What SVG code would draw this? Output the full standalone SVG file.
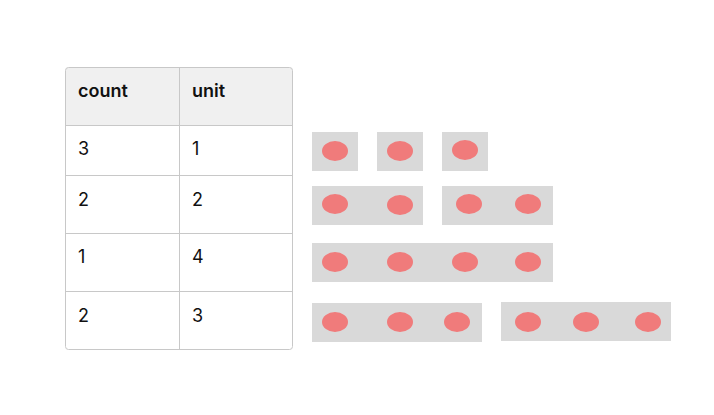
<svg xmlns="http://www.w3.org/2000/svg" width="714" height="415" viewBox="0 0 714 415">
<style>
.t{font-family:Inter,"Liberation Sans",sans-serif;font-size:18px;fill:#111}
.h{font-weight:600}
.ln{stroke:#c8c8c8;stroke-width:1;fill:none}
.bx{fill:#d9d9d9}
.dot{fill:#f07b7b}
</style>
<rect width="714" height="415" fill="#fff"/>
<g id="table">
<path d="M65.5,125.5 V70.5 a3,3 0 0 1 3,-3 H289.5 a3,3 0 0 1 3,3 V125.5 Z" fill="#f0f0f0"/>
<rect x="65.5" y="67.5" width="227" height="282" rx="3" class="ln"/>
<line x1="65.5" y1="125.5" x2="292.5" y2="125.5" class="ln"/>
<line x1="65.5" y1="175.5" x2="292.5" y2="175.5" class="ln"/>
<line x1="65.5" y1="233.5" x2="292.5" y2="233.5" class="ln"/>
<line x1="65.5" y1="291.5" x2="292.5" y2="291.5" class="ln"/>
<line x1="179.5" y1="67.5" x2="179.5" y2="349.5" class="ln"/>
<text x="78" y="97" class="t h">count</text>
<text x="192" y="97" class="t h">unit</text>
<text x="78" y="155" class="t">3</text><text x="192" y="155" class="t">1</text>
<text x="78" y="206" class="t">2</text><text x="192" y="206" class="t">2</text>
<text x="78" y="263" class="t">1</text><text x="192" y="263" class="t">4</text>
<text x="78" y="322" class="t">2</text><text x="192" y="322" class="t">3</text>
</g>
<g id="row1">
<rect x="312" y="132" width="46" height="39" class="bx"/>
<ellipse cx="335" cy="151" rx="13" ry="10" class="dot"/>
<rect x="377" y="132" width="46" height="39" class="bx"/>
<ellipse cx="400" cy="151" rx="13" ry="10" class="dot"/>
<rect x="442" y="132" width="46" height="39" class="bx"/>
<ellipse cx="465" cy="150" rx="13" ry="10" class="dot"/>
</g>
<g id="row2">
<rect x="312" y="186" width="111" height="39" class="bx"/>
<ellipse cx="335" cy="204" rx="13" ry="10" class="dot"/>
<ellipse cx="400" cy="205" rx="13" ry="10" class="dot"/>
<rect x="442" y="186" width="111" height="39" class="bx"/>
<ellipse cx="469" cy="204" rx="13" ry="10" class="dot"/>
<ellipse cx="528" cy="204" rx="13" ry="10" class="dot"/>
</g>
<g id="row3">
<rect x="312" y="243" width="241" height="39" class="bx"/>
<ellipse cx="335" cy="262" rx="13" ry="10" class="dot"/>
<ellipse cx="400" cy="262" rx="13" ry="10" class="dot"/>
<ellipse cx="465" cy="262" rx="13" ry="10" class="dot"/>
<ellipse cx="528" cy="262" rx="13" ry="10" class="dot"/>
</g>
<g id="row4">
<rect x="312" y="303" width="170" height="39" class="bx"/>
<ellipse cx="335" cy="322" rx="13" ry="10" class="dot"/>
<ellipse cx="400" cy="322" rx="13" ry="10" class="dot"/>
<ellipse cx="457" cy="322" rx="13" ry="10" class="dot"/>
<rect x="501" y="302" width="170" height="39" class="bx"/>
<ellipse cx="528" cy="322" rx="13" ry="10" class="dot"/>
<ellipse cx="586" cy="322" rx="13" ry="10" class="dot"/>
<ellipse cx="648" cy="322" rx="13" ry="10" class="dot"/>
</g>
<g id="connectors"/>
</svg>
